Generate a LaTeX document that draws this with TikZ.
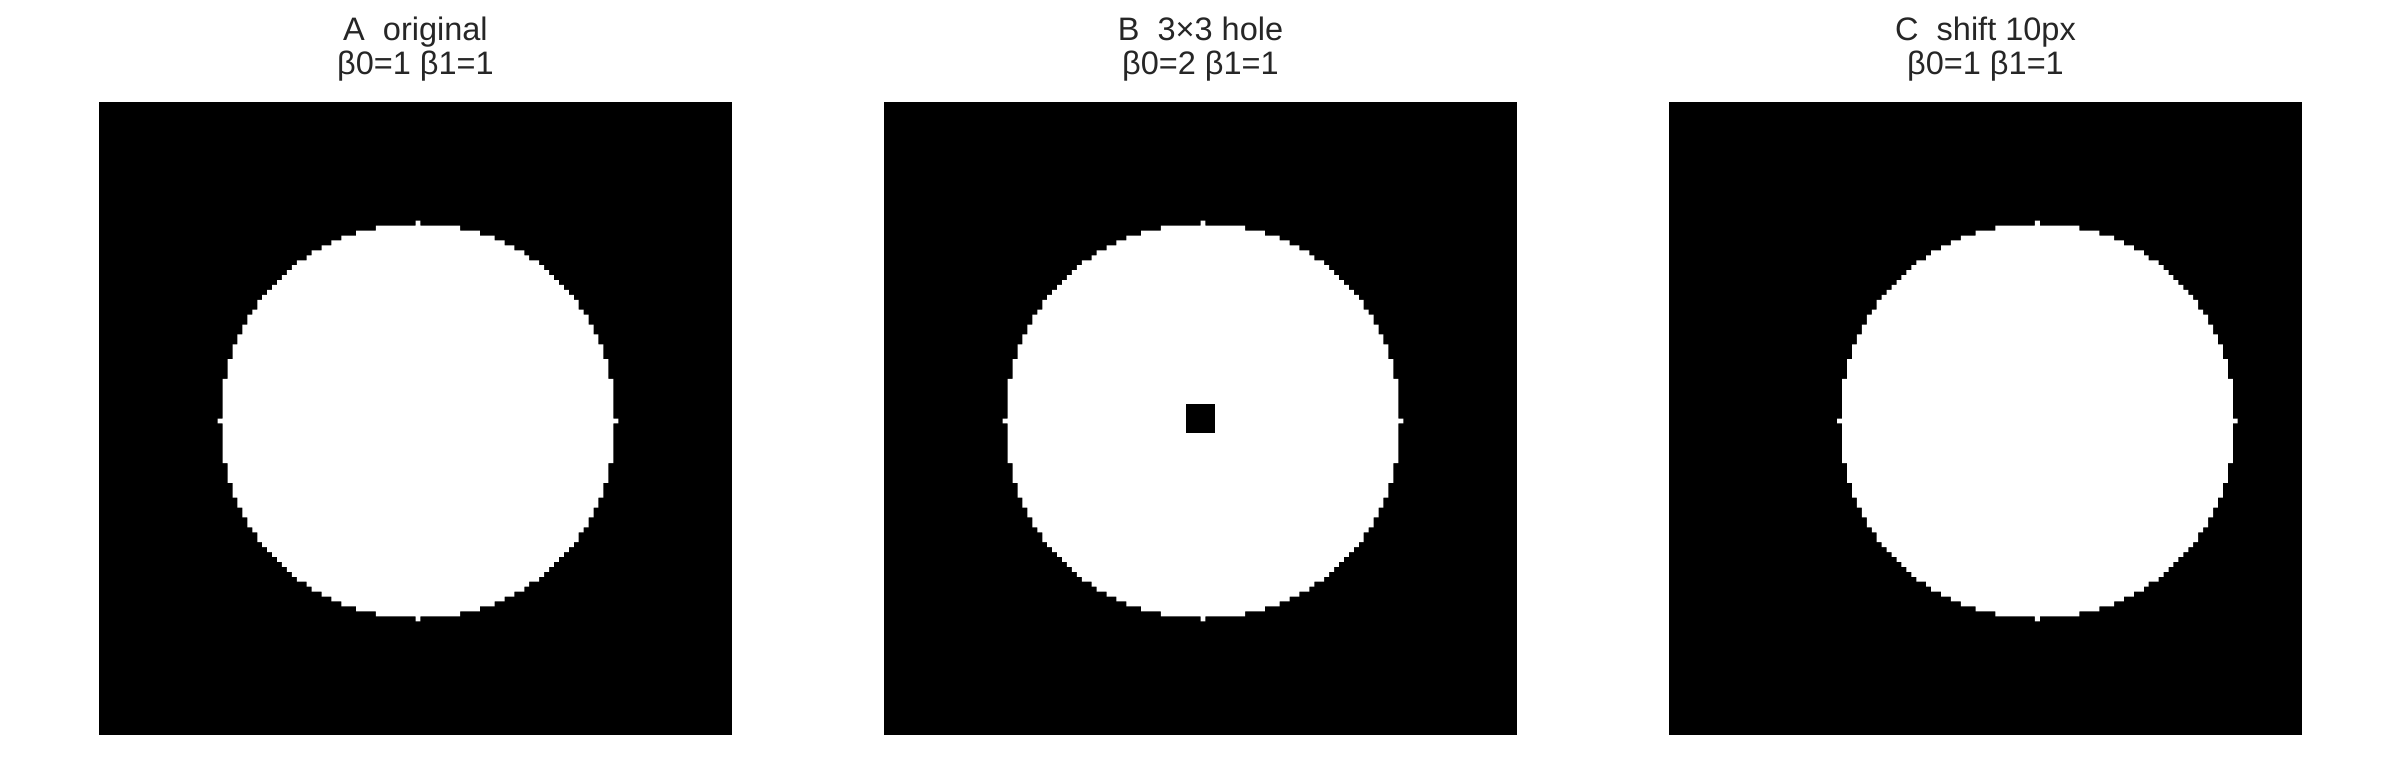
\documentclass[tikz,border=0pt]{standalone}
\usepackage{fontspec}
\setmainfont{Liberation Sans}
\definecolor{txt}{HTML}{262626}
\tikzset{
  ttl/.style={anchor=base, inner sep=0pt, text=txt, font=\fontsize{32.5}{35}\selectfont},
  panel/.style={x=4.9453pt, y=-4.9453pt},
}
\begin{document}
\begin{tikzpicture}[x=1pt, y=-1pt]
\fill[white] (0,0) rectangle (2400,780);
\useasboundingbox (0,0) rectangle (2400,780);
% titles
\node[ttl] (tA1) at (415.5,40) {A\ \ original};
\node[ttl] (tA2) at (415.5,74) {β0=1 β1=1};
\node[ttl] (tB1) at (1200.5,40) {B\ \ 3×3 hole};
\node[ttl] (tB2) at (1200.5,74) {β0=2 β1=1};
\node[ttl] (tC1) at (1985.5,40) {C\ \ shift 10px};
\node[ttl] (tC2) at (1985.5,74) {β0=1 β1=1};
% panel A
\begin{scope}[shift={(99pt,-102pt)}, panel]
  \fill[black] (0,0) rectangle (128,128);
  \fill[white] foreach \j [evaluate=\j as \w using {int(floor(sqrt(1600-(\j-64)*(\j-64))+0.001))}] in {24,...,104} {(64-\w,\j) rectangle (65+\w,\j+1)};
\end{scope}
% panel B
\begin{scope}[shift={(884pt,-102pt)}, panel]
  \fill[black] (0,0) rectangle (128,128);
  \fill[white] foreach \j [evaluate=\j as \w using {int(floor(sqrt(1600-(\j-64)*(\j-64))+0.001))}] in {24,...,104} {(64-\w,\j) rectangle (65+\w,\j+1)};
  \fill[black] (61,61) rectangle (67,67);
\end{scope}
% panel C
\begin{scope}[shift={(1669pt,-102pt)}, panel]
  \fill[black] (0,0) rectangle (128,128);
  \fill[white] foreach \j [evaluate=\j as \w using {int(floor(sqrt(1600-(\j-64)*(\j-64))+0.001))}] in {24,...,104} {(74-\w,\j) rectangle (75+\w,\j+1)};
\end{scope}
\end{tikzpicture}
\end{document}
